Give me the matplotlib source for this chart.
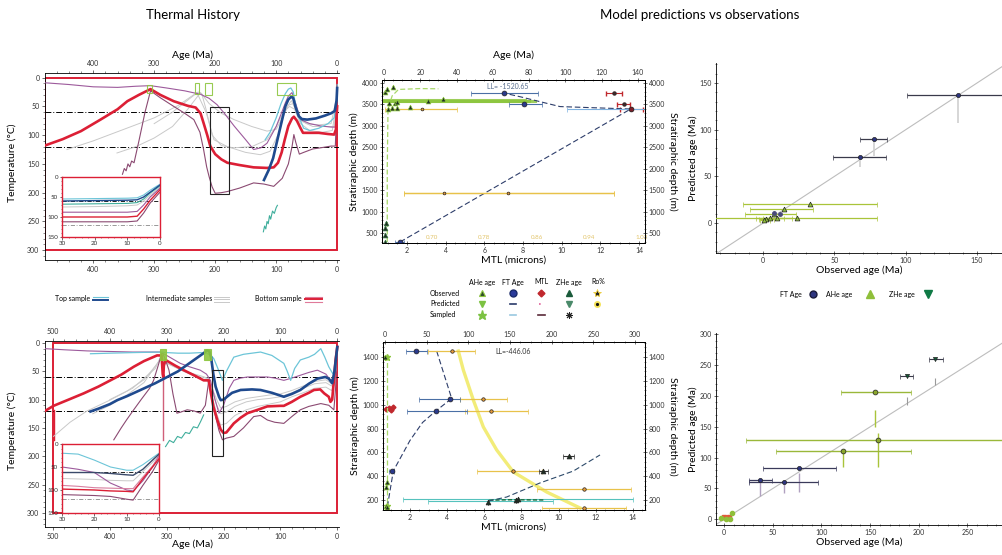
import matplotlib.pyplot as plt
import numpy as np
from matplotlib.patches import Rectangle
from matplotlib.ticker import MultipleLocator

plt.rcParams['font.family'] = ['Lato', 'DejaVu Sans']
plt.rcParams['axes.linewidth'] = 0.6
plt.rcParams['xtick.labelsize'] = 5
plt.rcParams['ytick.labelsize'] = 5
plt.rcParams['xtick.color'] = '#333333'
plt.rcParams['ytick.color'] = '#333333'
plt.rcParams['xtick.major.size'] = 2.5
plt.rcParams['ytick.major.size'] = 2.5
plt.rcParams['xtick.minor.size'] = 1.2
plt.rcParams['ytick.minor.size'] = 1.2
plt.rcParams['xtick.major.width'] = 0.5
plt.rcParams['ytick.major.width'] = 0.5
plt.rcParams['xtick.minor.width'] = 0.4
plt.rcParams['ytick.minor.width'] = 0.4
plt.rcParams['xtick.major.pad'] = 1.5
plt.rcParams['ytick.major.pad'] = 1.5

# colours
RED = '#dc1f35'
NAVY = '#1f4a8e'
CYAN = '#6cc5d8'
TEAL = '#3fae9c'
PURPLE = '#9d5a9c'
MAROON = '#8b4a72'
GREY = '#c9c9c9'
BOXGREEN = '#8dc63f'
AHE = '#8dc63f'
ZHE = '#1a6b3a'
FT = '#2b3a8c'
MTLC = '#c0282d'
RO = '#e8c24a'

# ---------------- thermal history, upper model ----------------
t1_bot_age = [479, 450, 420, 388, 360, 344, 325, 306, 290, 268, 245, 232, 224, 219, 213, 208, 200, 190, 180, 160,
              137, 115, 104, 97, 91, 86, 80, 74, 71, 66, 60, 56, 45, 30, 15, 5, 2, 0]
t1_bot_t = [118, 107, 93, 73, 55, 41, 30, 20, 30, 41, 49, 52, 62, 79, 100, 119, 133, 142, 148, 152,
            156, 157, 156, 148, 130, 108, 84, 71, 68, 75, 88, 96, 96, 96, 98, 99, 90, 50]
t1_top_age = [120, 112, 105, 98, 90, 85, 80, 75, 72, 68, 63, 58, 49, 35, 20, 10, 4, 1, 0]
t1_top_t = [178, 160, 140, 108, 72, 50, 38, 33, 36, 52, 67, 72, 73, 71, 66, 62, 58, 40, 18]
t1_cyan_age = [118, 110, 100, 92, 85, 80, 76, 72, 68, 62, 55, 45, 30, 15, 5, 1, 0]
t1_cyan_t = [108, 95, 70, 45, 28, 20, 18, 25, 48, 70, 88, 92, 88, 80, 70, 40, 12]
t1_teal_age = [121, 119, 117, 115, 113, 111, 109, 106, 103, 100, 98]
t1_teal_t = [268, 258, 263, 250, 254, 240, 246, 232, 236, 226, 222]
t1_pu1_age = [479, 440, 400, 360, 330, 306, 280, 250, 224, 210, 197, 185, 169, 150, 137, 125, 115, 100, 90, 85,
              80, 74, 68, 60, 45, 27, 10, 3, 0]
t1_pu1_t = [9, 12, 16, 17, 15, 14, 18, 23, 29, 36, 47, 62, 84, 108, 125, 122, 114, 85, 58, 44,
            32, 26, 45, 73, 80, 84, 86, 86, 20]
t1_pu2_age = [352, 349, 346, 343, 340, 337, 333, 325, 315, 306, 290, 268, 250, 235, 225, 219, 214, 210, 205, 200,
              190, 180, 160, 137, 120, 104, 90, 80, 74, 71, 68, 62, 55, 40, 27, 10, 3, 0]
t1_pu2_t = [168, 158, 162, 150, 155, 145, 148, 110, 60, 23, 35, 50, 62, 73, 95, 125, 155, 172, 190, 201,
            200, 198, 192, 183, 185, 189, 175, 150, 120, 99, 112, 133, 130, 124, 122, 119, 119, 25]
t1_g1_age = [443, 400, 350, 300, 260, 230, 215, 202, 180, 150, 126, 110, 95, 85, 75, 60, 40, 20, 5, 0]
t1_g1_t = [125, 110, 90, 70, 48, 26, 60, 108, 120, 130, 134, 128, 95, 55, 40, 75, 85, 85, 85, 25]
t1_g2_age = [361, 330, 300, 270, 245, 224, 210, 190, 169, 140, 115, 100, 90, 80, 72, 62, 50, 30, 10, 0]
t1_g2_t = [131, 120, 105, 85, 55, 26, 45, 62, 73, 85, 93, 90, 70, 48, 45, 70, 80, 82, 80, 30]
t1_g3_age = [300, 270, 240, 228, 222, 215, 205, 190, 170, 140, 115, 100, 88, 78, 70, 60, 45, 25, 8, 0]
t1_g3_t = [80, 60, 35, 25, 28, 55, 100, 118, 122, 120, 108, 85, 60, 50, 55, 80, 92, 95, 92, 35]

t1_gbox_old = [311, 233, 216, 98]
t1_gbox_young = [303, 227, 205, 68]
t1_gbox_top = [12, 10, 10, 10]
t1_gbox_bot = [26, 29, 31, 31]
t1_kbox = [209, 178, 51, 202]

i1_age = [30, 20, 10, 7, 5, 3, 0]
i1_navy = [60, 59, 58, 57, 50, 38, 20]
i1_cyan1 = [55, 54, 53, 52, 45, 33, 18]
i1_cyan2 = [68, 67, 66, 64, 55, 40, 22]
i1_grey = [75, 74, 72, 70, 60, 45, 25]
i1_purple = [88, 88, 88, 86, 70, 50, 28]
i1_red = [100, 100, 100, 98, 80, 58, 32]
i1_maroon = [112, 112, 112, 110, 90, 65, 38]

# ---------------- thermal history, lower model ----------------
t2_bot_age = [514, 499, 470, 446, 420, 399, 380, 358, 340, 317, 309, 307, 306, 305, 302, 285, 270, 250, 235, 226,
              222, 218, 211, 205, 200, 195, 182, 170, 158, 140, 123, 100, 94, 80, 65, 50, 41, 30, 23, 15,
              12, 9, 6, 3, 0]
t2_bot_t = [120, 111, 99, 89, 77, 66, 56, 42, 32, 22, 22, 55, 60, 40, 30, 40, 48, 58, 66, 66,
            90, 112, 136, 153, 159, 158, 142, 132, 124, 118, 112, 111, 111, 104, 95, 88, 83, 82, 89, 95,
            104, 100, 66, 30, 7]
t2_drop_age = [499, 499, 306, 306]
t2_drop_t = [118, 171, 30, 171]
t2_top_age = [434, 420, 400, 387, 370, 346, 320, 299, 280, 252, 235, 229, 225, 222, 218, 214, 208, 205, 200, 194,
              185, 170, 150, 135, 115, 94, 80, 65, 50, 35, 21, 15, 9, 5, 0]
t2_top_t = [121, 116, 108, 101, 94, 83, 71, 60, 50, 30, 18, 13, 15, 25, 55, 77, 95, 101, 100, 95,
            88, 83, 82, 83, 88, 95, 90, 83, 72, 63, 60, 63, 71, 50, 7]
t2_cyan_age = [434, 400, 360, 311, 300, 280, 260, 240, 230, 222, 217, 210, 202, 195, 182, 165, 150, 135, 115,
               100, 94, 88, 82, 75, 65, 50, 40, 29, 22, 15, 8, 3, 0]
t2_cyan_t = [19, 18, 17, 16, 17, 18, 18, 17, 18, 22, 28, 45, 66, 50, 25, 20, 18, 16, 22,
             32, 36, 50, 66, 45, 30, 25, 20, 10, 25, 42, 54, 50, 7]
t2_teal_age = [302, 295, 288, 281, 274, 267, 260, 253, 246, 240, 235]
t2_teal_t = [183, 172, 176, 165, 168, 158, 160, 148, 150, 138, 127]
t2_pu1_age = [514, 480, 440, 400, 360, 311, 300, 276, 260, 241, 230, 223, 215, 208, 200, 190, 182, 170, 158, 140,
              123, 110, 94, 80, 65, 50, 35, 20, 12, 5, 0]
t2_pu1_t = [10, 12, 14, 15, 16, 16, 22, 36, 42, 48, 55, 66, 100, 124, 110, 80, 66, 62, 60, 60,
            60, 62, 66, 62, 57, 52, 48, 55, 66, 60, 7]
t2_pu2_age = [393, 380, 370, 358, 345, 330, 323, 315, 308, 302, 296, 289, 282, 275, 264, 252, 241, 232, 226, 220,
              214, 208, 202, 195, 182, 165, 147, 135, 123, 110, 94, 80, 65, 50, 29, 15, 6, 3, 0]
t2_pu2_t = [171, 150, 135, 118, 100, 80, 66, 40, 16, 30, 48, 90, 124, 122, 118, 120, 124, 110, 66, 100,
            130, 155, 171, 168, 165, 150, 130, 128, 136, 140, 142, 130, 118, 112, 107, 110, 118, 80, 7]
t2_g1_age = [499, 470, 440, 400, 360, 320, 311, 300, 270, 240, 228, 220, 212, 205, 195, 180, 160, 140, 120, 100,
             80, 60, 40, 20, 10, 4, 0]
t2_g1_t = [165, 140, 120, 101, 80, 45, 25, 32, 50, 64, 67, 95, 125, 145, 142, 128, 118, 112, 108, 104,
           95, 88, 80, 78, 84, 70, 7]
t2_g2_age = [430, 400, 370, 340, 311, 300, 270, 240, 228, 220, 212, 205, 195, 180, 160, 140, 120, 100, 80, 60,
             40, 20, 10, 4, 0]
t2_g2_t = [125, 110, 92, 70, 28, 35, 50, 60, 63, 85, 110, 125, 122, 112, 104, 100, 98, 95, 88, 80,
           72, 70, 76, 60, 7]
t2_g3_age = [400, 370, 340, 311, 300, 270, 240, 228, 220, 212, 205, 195, 180, 160, 140, 120, 100, 80, 60, 40,
             20, 10, 4, 0]
t2_g3_t = [100, 85, 65, 30, 36, 50, 58, 62, 80, 100, 115, 112, 104, 98, 95, 92, 90, 84, 76, 68,
           65, 72, 55, 7]

t2_gbox_old = [311, 235]
t2_gbox_young = [301, 222]
t2_gbox_top = [10, 10]
t2_gbox_bot = [30, 30]
t2_kbox = [221, 201, 48, 200]

i2_age = [30, 25, 20, 15, 10, 8, 5, 2, 0]
i2_cyan = [20, 22, 35, 50, 57, 57, 45, 30, 20]
i2_navy = [62, 62, 62, 64, 67, 68, 55, 35, 22]
i2_purple = [50, 55, 62, 85, 100, 102, 80, 50, 25]
i2_grey = [75, 76, 77, 79, 80, 80, 60, 40, 25]
i2_pink = [90, 92, 95, 96, 97, 97, 72, 48, 28]
i2_red = [98, 99, 100, 102, 103, 104, 76, 50, 32]
i2_maroon = [110, 111, 112, 114, 120, 122, 90, 60, 35]

# ---------------- depth profile, upper model ----------------
p1_ahe_age = [0.5, 1.6, 5.0, 2.9, 6.0, 7.0, 2.3, 4.4, 7.2, 14.3, 24.3, 32.5]
p1_ahe_depth = [3790, 3860, 3907, 3533, 3533, 3557, 3393, 3417, 3417, 3440, 3580, 3627]
p1_zhe_age = [1.0, 0.8, 0.8, 0.8]
p1_zhe_depth = [733, 617, 453, 290]
p1_ft_age = [66, 77, 8.8]
p1_ft_depth = [3767, 3510, 290]
p1_ft_lo = [48, 69, 6]
p1_ft_hi = [85, 87, 11]
p1_ft2_age = [136]
p1_ft2_depth = [3393]
p1_ft2_lo = [101]
p1_ft2_hi = [145]
p1_ftpred_age = [8.8, 136, 97, 86, 75, 66]
p1_ftpred_depth = [290, 3393, 3450, 3565, 3680, 3767]
p1_mtl = [12.7, 13.2, 13.6]
p1_mtl_depth = [3767, 3510, 3393]
p1_mtl_err = [0.4, 0.35, 0.6]
p1_band_end = [80, 83, 78]
p1_band_depth = [3575, 3590, 3605]
p1_ahepred_age = [1.8, 1.8, 2.2, 3, 4.5, 8, 20, 30]
p1_ahepred_depth = [290, 2000, 3350, 3500, 3700, 3850, 3870, 3865]
p1_ro_age = [21, 33, 68.6]
p1_ro_depth = [3405, 1430, 1430]
p1_ro_lo = [0.5, 11, 11]
p1_ro_hi = [40, 126.6, 126.6]
p1_ro_ticks = [0.70, 0.78, 0.86, 0.94, 1.02]
p1_ll = 'LL= -1520.65'

# ---------------- depth profile, lower model ----------------
p2_ft_age = [37, 78, 61, 8]
p2_ft_depth = [1450, 1048, 947, 444]
p2_ft_lo = [25, 41, 26, 5]
p2_ft_hi = [50, 90, 98, 11]
p2_ftpred_age = [62, 80, 61, 45, 30, 10, 3]
p2_ftpred_depth = [1450, 1052, 947, 850, 700, 444, 150]
p2_ro_age = [80, 118, 127, 154, 239, 239]
p2_ro_depth = [1450, 1048, 947, 444, 292, 133]
p2_ro_lo = [52, 90, 96, 110, 182, 188]
p2_ro_hi = [108, 146, 172, 188, 295, 289]
p2_ropred_age = [88, 94, 106, 118, 134, 154, 194, 234]
p2_ropred_depth = [1450, 1291, 1039, 813, 620, 435, 267, 133]
p2_zhe_age = [221, 190, 124, 157, 160]
p2_zhe_depth = [570, 444, 183, 200, 205]
p2_zhe_lo = [214, 185, 124, 157, 160]
p2_zhe_hi = [227, 196, 124, 157, 160]
p2_zhepred_age = [124, 146, 186, 226, 258]
p2_zhepred_depth = [192, 225, 343, 443, 578]
p2_zbar_age = [157, 124]
p2_zbar_depth = [205, 195]
p2_zbar_lo = [22, 52]
p2_zbar_hi = [298, 202]
p2_mtl = [0.7, 0.85, 1.0, 1.1]
p2_mtl_depth = [965, 975, 958, 980]
p2_ahe_age = [0.3, 1.5, 2.0, 1.5, 2.0]
p2_ahe_depth = [1400, 310, 347, 150, 140]
p2_ll = 'LL=-446.06'

# ---------------- predicted vs observed, upper model ----------------
s1_ft_obs = [137, 78, 68]
s1_ft_pred = [137, 90, 71]
s1_ft_lo = [101, 68, 49]
s1_ft_hi = [175, 87, 86]
s1_ft_smp = [107, 72, 60]
s1_ahe_obs = [33, 24, 8, 15, 5, 2, 10, 1]
s1_ahe_pred = [20, 6, 10, 15, 6, 4, 5, 3]
s1_ahe_lo = [-14, -35, -13, -9, -5, -3, 0, -2]
s1_ahe_hi = [80, 80, 23, 35, 15, 8, 20, 5]
s1_ftsmall_obs = [8, 12]
s1_ftsmall_pred = [11, 10]

# ---------------- predicted vs observed, lower model ----------------
s2_zhe_obs = [217, 188]
s2_zhe_pred = [260, 232]
s2_zhe_lo = [211, 181]
s2_zhe_hi = [225, 194]
s2_zhe_smp_lo = [218, 186]
s2_zhe_smp_hi = [229, 198]
s2_ahe_obs = [155, 158, 122]
s2_ahe_pred = [207, 129, 111]
s2_ahe_lo = [120, 22, 53]
s2_ahe_hi = [192, 300, 192]
s2_ahe_smp_lo = [150, 85, 85]
s2_ahe_smp_hi = [177, 140, 111]
s2_ft_obs = [77, 37, 61]
s2_ft_pred = [84, 63, 60]
s2_ft_lo = [40, 25, 25]
s2_ft_hi = [115, 49, 96]
s2_ft_smp_lo = [45, 37, 43]
s2_ft_smp_hi = [75, 63, 60]
s2_near_obs = [0, 3, 5, 8, 2, 6, -3]
s2_near_pred = [3, 2, 4, 10, 0, 1, 2]

W, H = 1002, 555
fig = plt.figure(figsize=(W / 100, H / 100), dpi=100)


def place(l, t, r, b):
    return fig.add_axes([l / W, 1 - b / H, (r - l) / W, (b - t) / H])


def history(ax, lines, gbox, kbox, frame_w, filled):
    ax.add_patch(Rectangle((0, 0), frame_w, 300, fill=False, ec=RED, lw=1.4, zorder=1))
    for y in (60, 120):
        ax.axhline(y, color='k', lw=0.7, ls=(0, (6, 2, 1, 2)), zorder=2)
    for a, t, c, w in lines:
        ax.plot(a, t, color=c, lw=w, zorder=3)
    for old, young, top, bot in zip(*gbox):
        ax.add_patch(Rectangle((young, top), old - young, bot - top, ec=BOXGREEN, lw=0.8,
                               fc=BOXGREEN if filled else 'none', alpha=0.9, zorder=4))
    old, young, top, bot = kbox
    ax.add_patch(Rectangle((young, top), old - young, bot - top, fill=False, ec='#222222', lw=0.8, zorder=4))
    ax.spines['right'].set_visible(False)
    ax.tick_params(top=True, labeltop=True, direction='out')
    ax.xaxis.set_major_locator(MultipleLocator(100))
    ax.xaxis.set_minor_locator(MultipleLocator(20))
    ax.yaxis.set_major_locator(MultipleLocator(50))
    ax.yaxis.set_minor_locator(MultipleLocator(10))
    ax.tick_params(which='minor', top=True)


def inset(ax, age, lines):
    ax.set_xlim(30, 0)
    ax.set_ylim(150, 0)
    ax.axhline(60, color='k', lw=0.6, ls=(0, (5, 2, 1, 2)))
    ax.axhline(120, color='#888888', lw=0.6, ls=(0, (5, 2, 1, 2)))
    for t, c, w in lines:
        ax.plot(age, t, color=c, lw=w)
    for s in ax.spines.values():
        s.set_color(RED)
        s.set_linewidth(1.0)
    ax.set_xticks([30, 20, 10, 0])
    ax.set_yticks([0, 50, 100, 150])
    ax.xaxis.set_minor_locator(MultipleLocator(2))
    ax.yaxis.set_minor_locator(MultipleLocator(10))
    ax.tick_params(labelsize=4.5, length=1.8, pad=1)
    ax.tick_params(which='minor', length=1)


# thermal history, upper
ax1 = place(45, 73, 339, 260)
ax1.set_xlim(479, -3)
ax1.set_ylim(317, -8)
history(ax1, [
    (t1_g1_age, t1_g1_t, GREY, 0.7), (t1_g2_age, t1_g2_t, GREY, 0.7), (t1_g3_age, t1_g3_t, GREY, 0.7),
    (t1_pu1_age, t1_pu1_t, PURPLE, 0.8), (t1_pu2_age, t1_pu2_t, MAROON, 0.8),
    (t1_teal_age, t1_teal_t, TEAL, 0.8), (t1_cyan_age, t1_cyan_t, CYAN, 0.9),
    (t1_bot_age, t1_bot_t, RED, 1.9), (t1_top_age, t1_top_t, NAVY, 1.9)],
    (t1_gbox_old, t1_gbox_young, t1_gbox_top, t1_gbox_bot), t1_kbox, 479, False)
ax1.set_ylabel('Temperature (\u00b0C)', fontsize=7.5)
ax1.yaxis.set_label_coords(-0.095, 0.52)
ax1.text(0.5, 1.095, 'Age (Ma)', transform=ax1.transAxes, ha='center', va='center', fontsize=7.5)

in1 = place(62, 177, 160, 237)
inset(in1, i1_age, [(i1_grey, GREY, 0.7), (i1_cyan1, CYAN, 0.8), (i1_cyan2, TEAL, 0.8), (i1_purple, PURPLE, 0.8),
                    (i1_maroon, MAROON, 0.8), (i1_red, RED, 1.0), (i1_navy, NAVY, 1.0)])

# thermal history, lower
ax2 = place(45, 341, 339, 527)
ax2.set_xlim(514, -3)
ax2.set_ylim(325, -3.5)
ax2.plot(t2_drop_age[:2], t2_drop_t[:2], color=RED, lw=1.0, zorder=3)
ax2.plot(t2_drop_age[2:], t2_drop_t[2:], color='#d0607a', lw=1.0, zorder=3)
history(ax2, [
    (t2_g1_age, t2_g1_t, GREY, 0.7), (t2_g2_age, t2_g2_t, GREY, 0.7), (t2_g3_age, t2_g3_t, GREY, 0.7),
    (t2_pu1_age, t2_pu1_t, PURPLE, 0.8), (t2_pu2_age, t2_pu2_t, MAROON, 0.8),
    (t2_teal_age, t2_teal_t, TEAL, 0.8), (t2_cyan_age, t2_cyan_t, CYAN, 0.9),
    (t2_bot_age, t2_bot_t, RED, 1.9), (t2_top_age, t2_top_t, NAVY, 1.9)],
    (t2_gbox_old, t2_gbox_young, t2_gbox_top, t2_gbox_bot), t2_kbox, 500, True)
ax2.set_ylabel('Temperature (\u00b0C)', fontsize=7.5)
ax2.yaxis.set_label_coords(-0.095, 0.52)
ax2.set_xlabel('Age (Ma)', fontsize=7.5, labelpad=0)

in2 = place(62, 444, 159, 513)
inset(in2, i2_age, [(i2_grey, GREY, 0.7), (i2_cyan, CYAN, 0.8), (i2_purple, PURPLE, 0.8), (i2_pink, '#d77fa0', 0.8),
                    (i2_maroon, MAROON, 0.8), (i2_red, RED, 1.0), (i2_navy, '#3a4a6a', 1.0)])


# depth profiles
def profile(l, t, r, b, mtl_lim, age_lim, depth_lim, depth_step, age_step):
    ax = place(l, t, r, b)
    ax.set_xlim(*mtl_lim)
    ax.set_ylim(*depth_lim)
    axa = ax.twiny()
    axa.set_xlim(*age_lim)
    axr = ax.twinx()
    axr.set_ylim(*depth_lim)
    ax.xaxis.set_major_locator(MultipleLocator(2))
    ax.xaxis.set_minor_locator(MultipleLocator(0.5))
    axa.xaxis.set_major_locator(MultipleLocator(age_step))
    axa.xaxis.set_minor_locator(MultipleLocator(age_step / 4))
    for a in (ax, axr):
        a.yaxis.set_major_locator(MultipleLocator(depth_step))
        a.yaxis.set_minor_locator(MultipleLocator(depth_step / 5))
    for a in (ax, axa, axr):
        a.tick_params(which='both', direction='inout')
    ax.set_xlabel('MTL (microns)', fontsize=7.5, labelpad=1)
    ax.set_ylabel('Stratiraphic depth (m)', fontsize=7.5, labelpad=2)
    axr.set_ylabel('Stratiraphic depth (m)', fontsize=7.5, rotation=270, labelpad=9)
    return ax, axa


def hbars(ax, x, y, lo, hi, color, marker, mfc, ms=3.5, elw=0.8, z=5):
    ax.errorbar(x, y, xerr=[np.subtract(x, lo), np.subtract(hi, x)], fmt=marker, color=color, mfc=mfc,
                mec='#222222', ms=ms, elinewidth=elw, capsize=1.8, capthick=0.6, mew=0.5, zorder=z)


# upper profile
pa, pa_age = profile(382, 80, 645, 243, (0.707, 14.31), (-1.1, 143.9), (267, 4070), 500, 20)
for end, d in zip(p1_band_end, p1_band_depth):
    pa_age.plot([0, end], [d, d], color=AHE, lw=2.2, alpha=0.85, zorder=2)
pa_age.plot(p1_ahepred_age, p1_ahepred_depth, color='#a8d86a', lw=0.9, ls=(0, (4, 2)), zorder=3)
hbars(pa_age, p1_ro_age, p1_ro_depth, p1_ro_lo, p1_ro_hi, RO, 'o', '#e89a3a', ms=2, elw=0.9)
pa_age.plot(p1_ftpred_age, p1_ftpred_depth, color='#2d3d6a', lw=0.8, ls=(0, (5, 2.5)), zorder=4)
hbars(pa_age, p1_ft2_age, p1_ft2_depth, p1_ft2_lo, p1_ft2_hi, '#7fb2e0', 'o', '#7a1f2a', ms=3.5)
hbars(pa_age, p1_ft_age, p1_ft_depth, p1_ft_lo, p1_ft_hi, '#4a6fa5', 'o', FT, ms=3.5)
pa.errorbar(p1_mtl, p1_mtl_depth, xerr=p1_mtl_err, fmt='o', color=MTLC, mfc='#3a2a2a', mec='#3a2a2a',
            ms=2.2, elinewidth=0.8, capsize=1.8, zorder=5)
pa_age.plot(p1_ahe_age, p1_ahe_depth, '^', color='#1e2f22', mec=AHE, mew=0.5, ms=3.5, zorder=6)
pa_age.plot(p1_zhe_age, p1_zhe_depth, '^', color='#1e2f22', mec='#3b7a4a', mew=0.5, ms=3.5, zorder=6)
pa_age.text(68.4, 3930, p1_ll, fontsize=5, color='#5a7090', ha='center', va='center')
for ro in p1_ro_ticks:
    pa.text(3.29 + (ro - 0.70) * (14.16 - 3.29) / 0.32, 385, f'{ro:.2f}', fontsize=4.5, color='#e2c46a',
            ha='center', va='center')
pa_age.text(0.5, 1.15, 'Age (Ma)', transform=pa_age.transAxes, ha='center', va='center', fontsize=7.5)

# lower profile
pb, pb_age = profile(383, 342, 645, 510, (0.547, 14.65), (-2.4, 312), (116, 1526), 200, 50)
pb_age.plot(p2_ropred_age, p2_ropred_depth, color='#f2ec78', lw=2.4, zorder=2)
for x, y, lo, hi in zip(p2_zbar_age, p2_zbar_depth, p2_zbar_lo, p2_zbar_hi):
    hbars(pb_age, [x], [y], [lo], [hi], '#56c2bd', 'none', 'none', elw=0.8, z=3)
pb_age.plot([125, 150, 190], [198, 202, 200], color='#1a6b3a', lw=1.0, ls=(0, (3, 1.5)), zorder=4)
hbars(pb_age, p2_ro_age, p2_ro_depth, p2_ro_lo, p2_ro_hi, RO, 'o', '#e89a3a', ms=2.5, elw=0.9)
pb_age.plot(p2_ftpred_age, p2_ftpred_depth, color='#2d3d6a', lw=0.8, ls=(0, (5, 2.5)), zorder=4)
pb_age.plot(p2_zhepred_age, p2_zhepred_depth, color='#2d4a6a', lw=0.8, ls=(0, (5, 2.5)), zorder=4)
hbars(pb_age, p2_ft_age, p2_ft_depth, p2_ft_lo, p2_ft_hi, '#4a6fa5', 'o', FT, ms=3.5)
hbars(pb_age, p2_zhe_age, p2_zhe_depth, p2_zhe_lo, p2_zhe_hi, '#333333', '^', '#1e2f22', ms=3.5)
pb_age.plot([2, 2, 2, 2], [1420, 1000, 500, 140], color='#a8d86a', lw=0.9, ls=(0, (4, 2)), zorder=3)
pb.plot(p2_mtl, p2_mtl_depth, 'D', color=MTLC, ms=2.5, zorder=6)
pb_age.plot(p2_ahe_age, p2_ahe_depth, '^', color='#1e2f22', mec=AHE, mew=0.5, ms=3.5, zorder=6)
pb_age.plot([2, 3], [1400, 150], '*', color=AHE, ms=5, zorder=5)
pb_age.text(153.6, 1450, p2_ll, fontsize=5, color='#333333', ha='center', va='center')


# predicted vs observed
def scatter_axes(ax, step_x, step_y):
    for s in ('top', 'right'):
        ax.spines[s].set_visible(False)
    ax.xaxis.set_major_locator(MultipleLocator(step_x))
    ax.yaxis.set_major_locator(MultipleLocator(step_y))
    ax.xaxis.set_minor_locator(MultipleLocator(step_x / 5))
    ax.yaxis.set_minor_locator(MultipleLocator(step_y / 5))
    ax.tick_params(which='both', direction='inout')
    ax.set_xlabel('Observed age (Ma)', fontsize=7.5, labelpad=1)
    ax.set_ylabel('Predicted age (Ma)', fontsize=7.5, labelpad=1)


sa = place(716, 63, 1002, 253)
sa.set_xlim(-33, 167.5)
sa.set_ylim(-32, 171.4)
sa.plot([-33, 175], [-33, 175], color='#bdbdbd', lw=0.8, zorder=1)
sa.vlines(s1_ft_obs, s1_ft_smp, s1_ft_pred, color='#d0d0d0', lw=1.2, zorder=2)
for x, y, lo, hi in zip(s1_ahe_obs, s1_ahe_pred, s1_ahe_lo, s1_ahe_hi):
    hbars(sa, [x], [y], [lo], [hi], '#a9c43a', '^', '#8fbf3a', ms=3.5, elw=0.9, z=3)
sa.plot(s1_ftsmall_obs, s1_ftsmall_pred, 'o', color='#4a4a7a', ms=2.5, zorder=4)
hbars(sa, s1_ft_obs, s1_ft_pred, s1_ft_lo, s1_ft_hi, '#3a3a4a', 'o', '#2e3580', ms=3, elw=0.9)
scatter_axes(sa, 50, 50)
sa.set_xticks([0, 50, 100, 150])
sa.set_yticks([0, 50, 100, 150])

sb = place(716, 333, 1002, 525)
sb.set_xlim(-8.5, 285.7)
sb.set_ylim(-9.3, 302.4)
sb.plot([-10, 300], [-10, 300], color='#bdbdbd', lw=0.8, zorder=1)
sb.vlines(s2_zhe_obs, s2_zhe_smp_lo, s2_zhe_smp_hi, color='#9a9a9a', lw=0.8, zorder=2)
sb.vlines(s2_ahe_obs, s2_ahe_smp_lo, s2_ahe_smp_hi, color='#a9c43a', lw=1.0, zorder=2)
sb.vlines(s2_ft_obs, s2_ft_smp_lo, s2_ft_smp_hi, color='#b0a0c0', lw=1.0, zorder=2)
hbars(sb, s2_ahe_obs, s2_ahe_pred, s2_ahe_lo, s2_ahe_hi, '#9ab83a', 'o', '#8aa62c', ms=3.5, elw=1.0, z=3)
hbars(sb, s2_zhe_obs, s2_zhe_pred, s2_zhe_lo, s2_zhe_hi, '#3a3a4a', 'v', '#0f5a35', ms=3, elw=0.8)
hbars(sb, s2_ft_obs, s2_ft_pred, s2_ft_lo, s2_ft_hi, '#3a3a5a', 'o', '#2e3580', ms=3, elw=0.9)
sb.plot(s2_near_obs[:3], s2_near_pred[:3], 's', color='#e05a3a', ms=3, zorder=4)
sb.plot(s2_near_obs[3:], s2_near_pred[3:], 'o', color='#8fbf3a', ms=3, zorder=4)
scatter_axes(sb, 50, 50)

# shared overlay for titles and legends
ov = fig.add_axes([0, 0, 1, 1])
ov.set_xlim(0, W)
ov.set_ylim(H, 0)
ov.axis('off')
ov.patch.set_alpha(0)
ov.text(193, 15, 'Thermal History', ha='center', va='center', fontsize=9.5)
ov.text(700, 15, 'Model predictions vs observations', ha='center', va='center', fontsize=9.5)

# thermal history legend
ov.text(90, 299, 'Top sample', ha='right', va='center', fontsize=5)
ov.plot([93, 108], [297, 297], color=CYAN, lw=0.8)
ov.plot([93, 108], [299.5, 299.5], color=NAVY, lw=1.4)
ov.text(212, 299, 'Intermediate samples', ha='right', va='center', fontsize=5)
for yy in (296.5, 299, 301.5):
    ov.plot([214, 229], [yy, yy], color=GREY, lw=0.7)
ov.text(302, 299, 'Bottom sample', ha='right', va='center', fontsize=5)
ov.plot([305, 322], [296.5, 296.5], color='#e07a9a', lw=0.8)
ov.plot([305, 322], [299, 299], color=RED, lw=1.4)
ov.plot([305, 322], [301.5, 301.5], color='#e07a9a', lw=0.8)

# depth profile legend
for x, lab in zip([482, 513, 541, 569, 598], ['AHe age', 'FT Age', 'MTL', 'ZHe age', 'Ro%']):
    ov.text(x, 282, lab, ha='center', va='center', fontsize=5)
for y, lab in zip([293, 304, 315], ['Observed', 'Predicted', 'Sampled']):
    ov.text(430, y, lab, ha='left', va='center', fontsize=5)
ov.plot(482, 293, '^', color='#2e4a2a', mec=AHE, ms=4.5, mew=0.8)
ov.plot(513, 293, 'o', color='#2a3a9a', mec='#1a2a6a', ms=5)
ov.plot(541, 293, 'D', color=MTLC, ms=3.5)
ov.plot(569, 293, '^', color='#1a5a3a', ms=4.5)
ov.plot(597, 293, '*', color='#222222', mec='#f5d33a', mew=0.6, ms=6)
ov.plot(482, 304, 'v', color='#7cc242', ms=4.5)
ov.plot([510, 516], [304, 304], color='#2a3a6a', lw=1.2)
ov.plot([539, 543], [304, 304], color='#e0609a', lw=1.2, ls=(0, (1, 2)))
ov.plot(569, 304, 'v', color='#4a8a6a', ms=4.5)
ov.plot(597, 304, 'o', color='#f5e35a', ms=4)
ov.plot(597, 304, 'o', color='#111111', ms=1.3)
ov.plot(482, 315, '*', color='#7cc242', ms=6.5)
ov.plot([510, 516], [315, 315], color='#9ac8e0', lw=1.2)
ov.plot([538, 545], [315, 315], color='#5a2a3a', lw=1.2)
ov.plot(569, 315, marker=(8, 2, 0), color='#222222', ms=5, mew=0.7)

# scatter legend
ov.text(802, 294, 'FT Age', ha='right', va='center', fontsize=5)
ov.plot(813, 294, 'o', color='#2e3580', mec='#1a1a3a', ms=5)
ov.text(852, 294, 'AHe age', ha='right', va='center', fontsize=5)
ov.plot(870, 294, '^', color='#8fbf3a', ms=5.5)
ov.text(915, 294, 'ZHe age', ha='right', va='center', fontsize=5)
ov.plot(928, 294, 'v', color='#0f7a45', ms=5.5)

fig.savefig('out.png', dpi=100)
